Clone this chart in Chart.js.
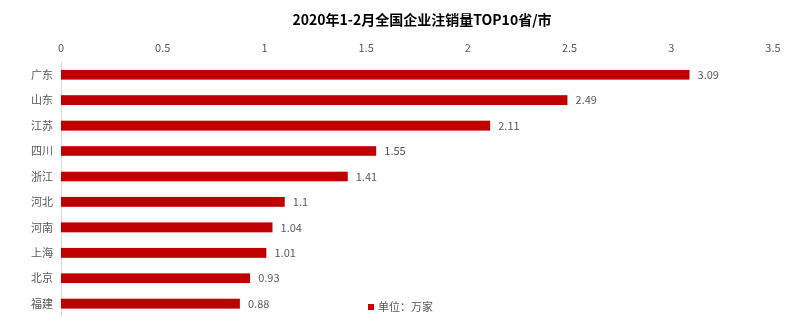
<!DOCTYPE html>
<html>
<head>
<meta charset="utf-8">
<title>2020年1-2月全国企业注销量TOP10省/市</title>
<script src="https://cdn.jsdelivr.net/npm/chart.js@4/dist/chart.umd.min.js"></script>
<style>
  html, body { margin: 0; padding: 0; background: #fff; }
  #wrap { width: 800px; height: 331px; }
</style>
</head>
<body>
<div id="wrap"><canvas id="cancelChart"></canvas></div>
<script>
// 注销量（万家）
const provinces = ['广东', '山东', '江苏', '四川', '浙江', '河北', '河南', '上海', '北京', '福建'];
const cancellations = [3.09, 2.49, 2.11, 1.55, 1.41, 1.1, 1.04, 1.01, 0.93, 0.88];
const seriesName = '单位：万家';
const chartTitle = '2020年1-2月全国企业注销量TOP10省/市';

const FONT = '"Noto Sans CJK SC", "Noto Sans", sans-serif';
const BAR_COLOR = '#c00000';
const TEXT_GRAY = '#595959';

// title, value labels and the small legend are painted by hand
const decorations = {
    id: 'decorations',
    afterDatasetsDraw(chart) {
        const ctx = chart.ctx;
        const area = chart.chartArea;
        const meta = chart.getDatasetMeta(0);

        ctx.save();
        ctx.font = '11px ' + FONT;
        ctx.fillStyle = TEXT_GRAY;
        ctx.textAlign = 'left';
        ctx.textBaseline = 'middle';
        meta.data.forEach((bar, i) => {
            ctx.fillText(String(cancellations[i]), bar.x + 8, bar.y);
        });

        // title centred on the plot area
        ctx.font = 'bold 14px ' + FONT;
        ctx.fillStyle = '#000';
        ctx.textAlign = 'center';
        ctx.fillText(chartTitle, (area.left + area.right) / 2 + 5, 20);

        // legend
        ctx.fillStyle = BAR_COLOR;
        ctx.fillRect(368, 304, 6, 6);
        ctx.font = '11px ' + FONT;
        ctx.fillStyle = TEXT_GRAY;
        ctx.textAlign = 'left';
        ctx.fillText(seriesName, 378, 307);
        ctx.restore();
    }
};

new Chart(document.getElementById('cancelChart'), {
    type: 'bar',
    data: {
        labels: provinces,
        datasets: [{
            label: seriesName,
            data: cancellations,
            backgroundColor: BAR_COLOR,
            borderColor: 'rgba(240, 120, 120, 0.5)',
            borderWidth: 0.5,
            barThickness: 10
        }]
    },
    options: {
        indexAxis: 'y',
        responsive: true,
        maintainAspectRatio: false,
        animation: false,
        layout: { padding: { top: 30, right: 27, bottom: 13, left: 0 } },
        plugins: {
            legend: { display: false },
            title: { display: false },
            tooltip: { enabled: false }
        },
        scales: {
            x: {
                position: 'top',
                min: 0,
                max: 3.5,
                grid: { display: false, drawTicks: false },
                border: { display: false },
                ticks: {
                    stepSize: 0.5,
                    padding: 8,
                    color: TEXT_GRAY,
                    font: { family: FONT, size: 11 },
                    callback: (value) => String(value)
                },
                afterFit(scale) { scale.height = 32; }
            },
            y: {
                grid: { display: false, drawTicks: false },
                border: { display: true, color: '#d9d9d9', width: 1 },
                ticks: {
                    padding: 8,
                    color: TEXT_GRAY,
                    font: { family: FONT, size: 11 }
                },
                afterFit(scale) { scale.width = 61; }
            }
        }
    },
    plugins: [decorations]
});
</script>
</body>
</html>
